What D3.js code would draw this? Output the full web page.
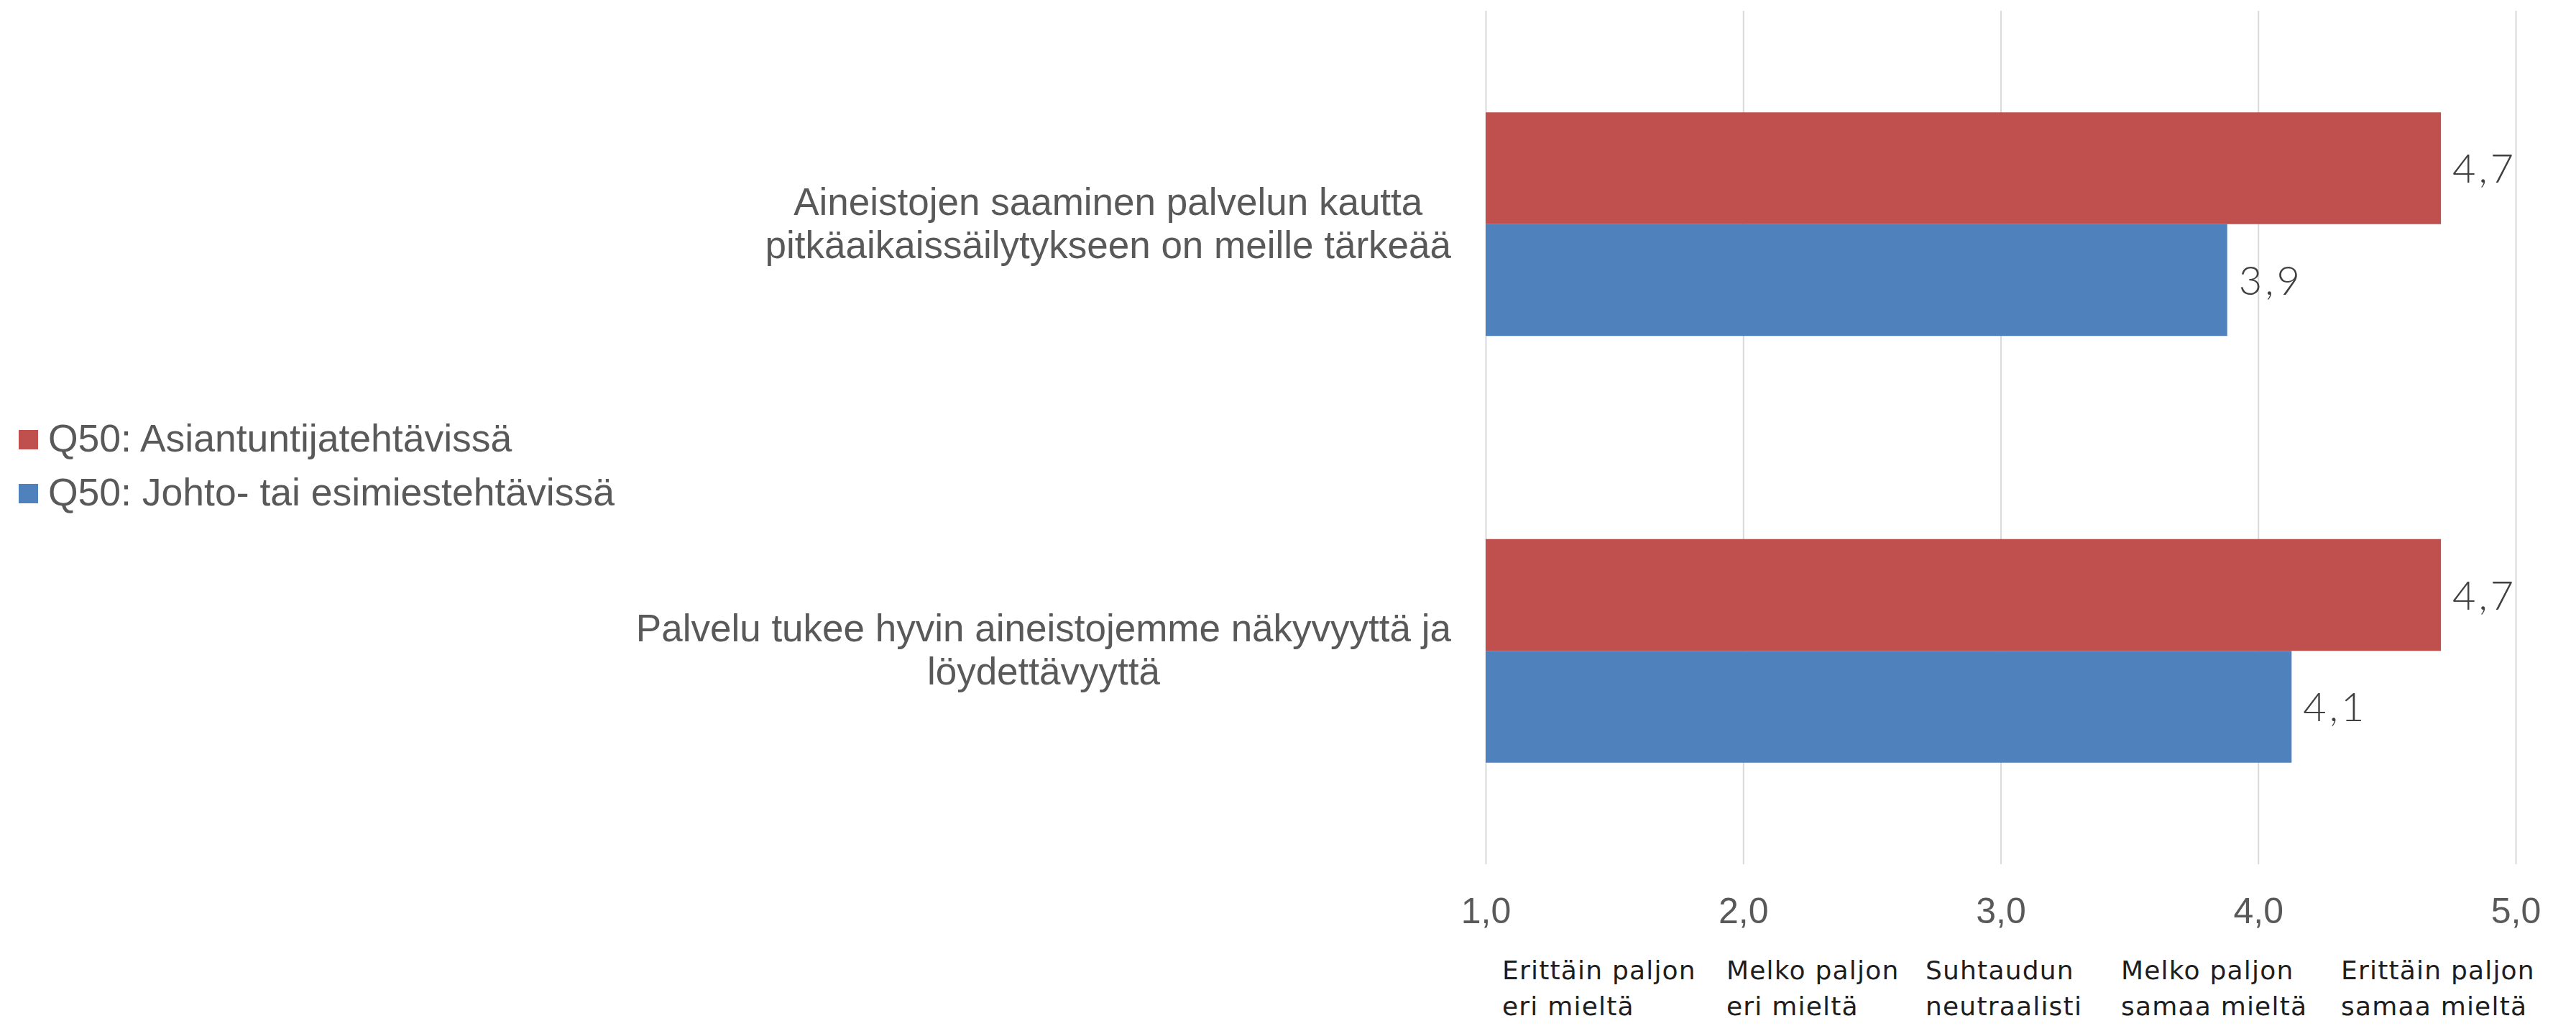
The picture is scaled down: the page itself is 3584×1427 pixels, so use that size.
<!DOCTYPE html>
<html>
<head>
<meta charset="utf-8">
<script src="https://cdn.jsdelivr.net/npm/d3@7"></script>
<style>
  html, body { margin: 0; padding: 0; background: #fff; }
  svg { display: block; }
</style>
</head>
<body>
<div id="chart"></div>
<script>
// chart data
const categories = [
    "Aineistojen saaminen palvelun kautta\npitkäaikaissäilytykseen on meille tärkeää",
    "Palvelu tukee hyvin aineistojemme näkyvyyttä ja\nlöydettävyyttä"
];
const seriesNames = ["Q50: Asiantuntijatehtävissä", "Q50: Johto- tai esimiestehtävissä"];
const asiantuntija = [4.71, 4.71];
const johto = [3.88, 4.13];
const xTicks = [1, 2, 3, 4, 5];
const scaleLabels = [
    ["Erittäin paljon", "eri mieltä"],
    ["Melko paljon", "eri mieltä"],
    ["Suhtaudun", "neutraalisti"],
    ["Melko paljon", "samaa mieltä"],
    ["Erittäin paljon", "samaa mieltä"]
];

const colors = ["#C0504D", "#4F81BD"];
const W = 3584, H = 1427;
const plot = { left: 2067, right: 3500, top: 15, bottom: 1202 };
const arial = "'Liberation Sans', Arial, sans-serif";
const fi = d3.formatLocale({ decimal: ",", thousands: " ", grouping: [3], currency: ["", "€"] });
const fmt = fi.format(".1f");

const svg = d3.select("#chart").append("svg")
    .attr("width", W)
    .attr("height", H);

const x = d3.scaleLinear().domain([1, 5]).range([plot.left, plot.right]);
const y = d3.scaleBand().domain(d3.range(categories.length))
    .range([plot.top, plot.bottom])
    .paddingInner(0.476)
    .paddingOuter(0.238);
const ySub = d3.scaleBand().domain([0, 1]).range([0, y.bandwidth()]);

// gridlines + tick labels
const xAxis = svg.append("g")
    .attr("transform", `translate(0,${plot.bottom})`)
    .call(d3.axisBottom(x).tickValues(xTicks).tickFormat(fmt)
        .tickSizeInner(-(plot.bottom - plot.top)).tickSizeOuter(0).tickPadding(46));
xAxis.select(".domain").remove();
xAxis.selectAll(".tick line").attr("stroke", "#D9D9D9").attr("stroke-width", 2);
xAxis.selectAll(".tick text")
    .attr("fill", "#595959")
    .style("font-family", arial)
    .style("font-size", "50px");

// bars
const rows = categories.map((c, i) => [asiantuntija[i], johto[i]]);
const groups = svg.selectAll(".catG")
    .data(rows)
    .join("g")
    .attr("class", "catG")
    .attr("transform", (d, i) => `translate(0,${y(i)})`);

groups.selectAll("rect")
    .data(d => d)
    .join("rect")
    .attr("x", x(1))
    .attr("y", (d, j) => ySub(j))
    .attr("width", d => x(d) - x(1))
    .attr("height", ySub.bandwidth())
    .attr("fill", (d, j) => colors[j]);

groups.selectAll(".valLabel")
    .data(d => d)
    .join("text")
    .attr("class", "valLabel")
    .attr("x", d => x(d) + 16)
    .attr("y", (d, j) => ySub(j) + ySub.bandwidth() / 2)
    .attr("dy", "0.36em")
    .attr("fill", "#404040")
    .style("font-family", "Lato, 'Open Sans', sans-serif")
    .style("font-weight", 300)
    .style("font-size", "56px")
    .style("letter-spacing", "4px")
    .text(d => fmt(Math.round(d * 10) / 10));

// category labels: right-aligned block, lines centred within it
const catG = svg.append("g");
categories.forEach((c, i) => {
    const lines = c.split("\n");
    const t = catG.append("text")
        .attr("text-anchor", "middle")
        .attr("fill", "#595959")
        .style("font-family", arial)
        .style("font-size", "53px");
    const cy = y(i) + y.bandwidth() / 2;
    lines.forEach((ln, k) => {
        t.append("tspan")
            .attr("y", cy + (k - (lines.length - 1) / 2) * 60 + 17)
            .text(ln);
    });
    let maxW = 0;
    t.selectAll("tspan").each(function () { maxW = Math.max(maxW, this.getComputedTextLength()); });
    t.selectAll("tspan").attr("x", plot.left - 48 - maxW / 2);
});

// legend
const legend = svg.append("g").attr("transform", "translate(26,598)");
seriesNames.forEach((name, i) => {
    const g = legend.append("g").attr("transform", `translate(0,${i * 75})`);
    g.append("rect").attr("width", 27).attr("height", 27).attr("fill", colors[i]);
    g.append("text")
        .attr("x", 41)
        .attr("y", 30)
        .attr("fill", "#595959")
        .style("font-family", arial)
        .style("font-size", "53.5px")
        .text(name);
});

// answer-scale text box under the axis
const scaleX = [2090, 2402, 2679, 2951, 3257];
const scaleG = svg.append("g");
scaleLabels.forEach((lines, i) => {
    const t = scaleG.append("text")
        .attr("fill", "#1e1e1e")
        .style("font-family", "'DejaVu Sans', Verdana, sans-serif")
        .style("font-size", "36px")
        .style("letter-spacing", "1.2px");
    lines.forEach((ln, k) => {
        t.append("tspan").attr("x", scaleX[i]).attr("y", 1362 + k * 50).text(ln);
    });
});
</script>
</body>
</html>
